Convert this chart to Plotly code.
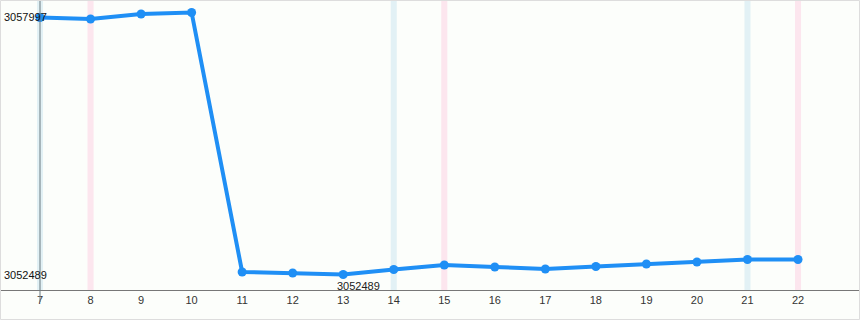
import plotly.graph_objects as go

days = [7, 8, 9, 10, 11, 12, 13, 14, 15, 16, 17, 18, 19, 20, 21, 22]
values = [3057997, 3057965, 3058072, 3058104, 3052543, 3052521, 3052489, 3052596,
          3052693, 3052650, 3052607, 3052661, 3052714, 3052757, 3052811, 3052811]
blue_days = [7, 14, 21]
pink_days = [8, 15, 22]
y_labels = [3057997, 3052489]
min_day = 13
min_value = 3052489

W, H = 860, 320
ML, MR, MT, MB = 1, 1, 1, 30
pw, ph = W - ML - MR, H - MT - MB

fig = go.Figure()
fig.add_trace(go.Scatter(
    x=days, y=values, mode="lines+markers",
    line=dict(color="#1f8ff5", width=4),
    marker=dict(color="#1f8ff5", size=9),
    hoverinfo="skip", showlegend=False, cliponaxis=False))

shapes = []
for d in blue_days:
    shapes.append(dict(type="rect", xref="x", yref="paper", x0=d - 0.06, x1=d + 0.06,
                       y0=0, y1=1, fillcolor="#e2f1f5", line=dict(width=0), layer="below"))
for d in pink_days:
    shapes.append(dict(type="rect", xref="x", yref="paper", x0=d - 0.06, x1=d + 0.06,
                       y0=0, y1=1, fillcolor="#fce6ee", line=dict(width=0), layer="below"))
shapes.append(dict(type="line", xref="x", yref="paper", x0=days[0], x1=days[0],
                   y0=-12 / ph, y1=1, line=dict(color="#6a7a80", width=1)))
shapes.append(dict(type="rect", xref="paper", yref="paper",
                   x0=-ML / pw + 0.5 / pw, x1=1 + MR / pw - 0.5 / pw,
                   y0=-MB / ph + 0.5 / ph, y1=1 + MT / ph - 0.5 / ph,
                   line=dict(color="#dddddd", width=1), fillcolor="rgba(0,0,0,0)"))

annotations = []
for v in y_labels:
    annotations.append(dict(x=0, xref="paper", y=v, yref="y", text=str(v), showarrow=False,
                            xanchor="left", yanchor="middle", xshift=1,
                            font=dict(family="Liberation Sans, Arial", size=11, color="#111")))
annotations.append(dict(x=min_day, y=min_value, xref="x", yref="y", text=str(min_value),
                        showarrow=False, xanchor="left", yanchor="top", xshift=-8, yshift=-3,
                        font=dict(family="Liberation Sans, Arial", size=11, color="#222")))

fig.update_layout(
    width=W, height=H,
    margin=dict(l=ML, r=MR, t=MT, b=MB),
    paper_bgcolor="#fcfefb", plot_bgcolor="#fcfefb",
    shapes=shapes, annotations=annotations,
    xaxis=dict(range=[6.228, 23.207], tickmode="array", tickvals=days,
               ticktext=[str(d) for d in days], showgrid=False, zeroline=False,
               showline=True, linecolor="#777", linewidth=1, ticks="",
               tickfont=dict(family="Liberation Sans, Arial", size=11, color="#333"),
               fixedrange=True),
    yaxis=dict(range=[3052157, 3058350], showticklabels=False, showgrid=False,
               zeroline=False, showline=False, fixedrange=True),
)

fig.write_html("out.html")
